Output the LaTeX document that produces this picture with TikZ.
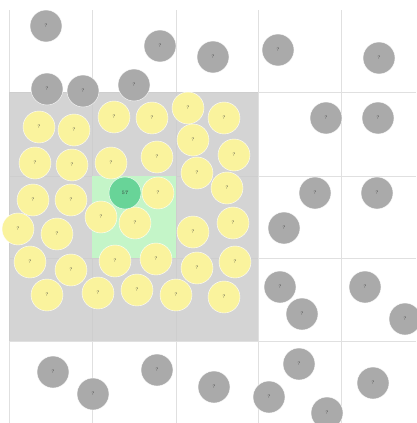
\documentclass[tikz,border=0pt]{standalone}
\usepackage{tikz}
\definecolor{gridline}{RGB}{224,224,224}
\definecolor{areagray}{RGB}{204,204,204}
\definecolor{cellgreen}{RGB}{196,245,200}
\definecolor{ballgray}{RGB}{170,170,170}
\definecolor{ballyellow}{RGB}{250,243,157}
\definecolor{ballgreen}{RGB}{104,212,152}
\tikzset{
  ball/.style = {circle, inner sep=0pt, minimum size=32pt, text=black!80,
    font=\fontsize{5}{6}\selectfont, draw=white, line width=0.4pt},
  far_ball/.style = {ball, fill=ballgray},% hors de la zone
  near_ball/.style = {ball, fill=ballyellow},% dans la zone
  own_ball/.style = {ball, fill=ballgreen}% la cellule courante
}
\begin{document}
\begin{tikzpicture}[x=1pt, y=-1pt]
  \useasboundingbox (0,0) rectangle (416,423);
  % grille
  \foreach \gx in {9,92,176,258,341}
    \draw[gridline, line width=0.6pt] (\gx,10) -- (\gx,423);
  \foreach \gy in {92,176,258,341}
    \draw[gridline, line width=0.6pt] (9,\gy) -- (416,\gy);
  % zone voisine et cellule
  \fill[areagray, fill opacity=0.85] (9,92) rectangle (258,341);
  \fill[cellgreen] (92,176) rectangle (176,258);
  % particules lointaines
  \foreach \px/\py [count=\i] in {46/26, 160/46, 213/57, 278/50, 379/58,
      47/89, 83/91, 134/85, 326/118, 378/118, 315/193, 377/193,
      284/228, 280/287, 302/314, 365/287, 405/319,
      53/372, 93/394, 157/370, 214/387, 269/397, 299/364, 327/413, 373/383}
    \node[far_ball] (far\i) at (\px,\py) {?};
  % particules voisines
  \foreach \px/\py [count=\i] in {39/127, 74/130, 114/117, 152/118, 188/108,
      224/118, 193/140, 234/155, 35/163, 72/165, 111/163, 157/157,
      197/173, 227/188, 33/200, 71/200, 158/193,
      18/229, 57/234, 101/217, 135/223, 193/232, 233/223,
      30/262, 71/270, 115/261, 156/259, 197/268, 235/262,
      47/295, 98/293, 137/290, 176/295, 224/297}
    \node[near_ball] (near\i) at (\px,\py) {?};
  \node[own_ball] (own) at (125,193) {57};
\end{tikzpicture}
\end{document}
